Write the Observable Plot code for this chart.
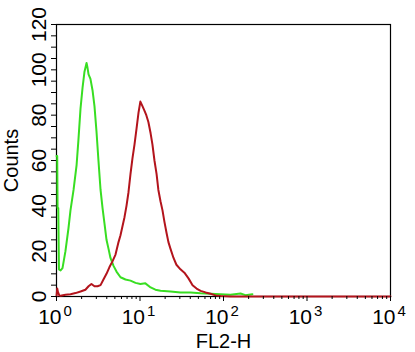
<!DOCTYPE html>
<html>
<head>
<meta charset="utf-8">
<script src="https://cdn.jsdelivr.net/npm/d3@7"></script>
<script src="https://cdn.jsdelivr.net/npm/@observablehq/plot@0.6"></script>
<style>
  html, body { margin: 0; padding: 0; background: #fff; }
  svg { display: block; }
</style>
</head>
<body>
<div id="chart"></div>
<script>
// Green histogram (isotype control)
const greenFL2 = [1.00,1.02,1.03,1.05,1.07,1.12,1.18,1.28,1.39,1.47,1.60,1.74,1.83,1.94,2.05,2.16,2.29,2.35,2.42,2.55,2.70,2.85,3.01,3.18,3.37,3.56,3.76,3.97,4.20,4.43,4.82,5.23,5.84,6.70,7.69,8.84,10.1,11.6,13.4,15.3,17.6,23.2,30.5,40.3,53,70,92,121,160,183,222];
const greenCounts = [62,62,39,39,12,11.5,12.5,20,30,38,47,58,69,83,92,99,103,101,98,96,91,84,73,60,47,39,32,25,21,17,13.5,11,8.5,7.5,7,6,5.5,5.8,4,3,2.5,2.2,1.8,1.8,1.4,1.2,1.0,0.8,1.3,0.6,1.0];

// Red histogram (stained sample)
const redFL2 = [1.00,1.02,1.04,1.08,1.12,1.28,1.47,1.69,1.94,2.22,2.42,2.62,2.85,3.10,3.37,3.65,3.97,4.31,4.68,5.09,5.53,5.84,6.17,6.52,6.89,7.28,7.69,8.13,8.59,9.08,9.59,10.1,10.7,11.3,11.9,12.6,13.4,14.1,14.9,15.8,16.6,17.6,18.6,19.6,20.8,21.9,23.2,25.2,27.3,30.5,34.0,38.1,42.6,47.6,53.2,61,70,80,92,121,10000];
const redCounts = [0,3.5,2,0.5,0.3,0.8,1,1.5,2.2,3,4.5,5.5,4.5,4.5,5,7.5,10,13,15.5,18.5,24,27,31,35,40,46,54,61,67,74,81,86,84,82,80,77,72,67,60,54,47,42,38,33,28,24,21,17,14,12,10.5,8,5,3.5,2.5,1.8,1.2,0.5,0.2,0,0];

// Axes
const xMajorTicks = [1, 10, 100, 1000, 10000];
const xExponents = ["0", "1", "2", "3", "4"];
const xMinorTicks = [2,3,4,5,6,7,8,9,20,30,40,50,60,70,80,90,200,300,400,500,600,700,800,900,2000,3000,4000,5000,6000,7000,8000,9000];
const yMajorTicks = [0, 20, 40, 60, 80, 100, 120];
const yMinorTicks = [0,5,10,15,20,25,30,35,40,45,50,55,60,65,70,75,80,85,90,95,100,105,110,115,120];
const xTitle = "FL2-H";
const yTitle = "Counts";

const green = greenFL2.map((x, i) => ({x, y: greenCounts[i]}));
const red = redFL2.map((x, i) => ({x, y: redCounts[i]}));
const xLabels = xMajorTicks.map((v, i) => ({v, e: xExponents[i]}));

const chart = Plot.plot({
  width: 415,
  height: 352,
  marginLeft: 56,
  marginRight: 25,
  marginTop: 24,
  marginBottom: 56,
  style: {fontFamily: "'Liberation Sans', Arial, sans-serif", fontSize: "20px", color: "#000", background: "#fff", overflow: "visible"},
  x: {type: "log", domain: [1, 10000]},
  y: {domain: [0, 120]},
  marks: [
    Plot.frame({stroke: "#000", strokeWidth: 1.2}),
    Plot.line(green, {x: "x", y: "y", stroke: "#38de22", strokeWidth: 2}),
    Plot.line(red, {x: "x", y: "y", stroke: "#b3141c", strokeWidth: 2}),
    Plot.axisX({ticks: xMinorTicks, tickSize: 3, tickFormat: () => "", label: null, stroke: "#000"}),
    Plot.axisX({ticks: xMajorTicks, tickSize: 5, tickFormat: () => "", label: null, stroke: "#000"}),
    Plot.axisY({ticks: yMinorTicks, tickSize: 5, tickFormat: () => "", label: null, stroke: "#000"}),
    Plot.text(xLabels, {x: "v", text: () => "10", frameAnchor: "bottom", textAnchor: "end", lineAnchor: "bottom", dx: 5, dy: 27, fontSize: 21}),
    Plot.text(xLabels, {x: "v", text: "e", frameAnchor: "bottom", textAnchor: "start", lineAnchor: "bottom", dx: 7, dy: 19, fontSize: 15}),
    Plot.text(yMajorTicks, {y: d => d, text: d => String(d), frameAnchor: "left", rotate: -90, textAnchor: "middle", lineAnchor: "bottom", dx: -11, fontSize: 21}),
    Plot.text([yTitle], {text: d => d, frameAnchor: "left", rotate: -90, textAnchor: "middle", lineAnchor: "bottom", dx: -39, fontSize: 20}),
    Plot.text([xTitle], {text: d => d, frameAnchor: "bottom", textAnchor: "middle", lineAnchor: "bottom", dy: 51, fontSize: 20})
  ]
});
document.getElementById("chart").appendChild(chart);
</script>
</body>
</html>
